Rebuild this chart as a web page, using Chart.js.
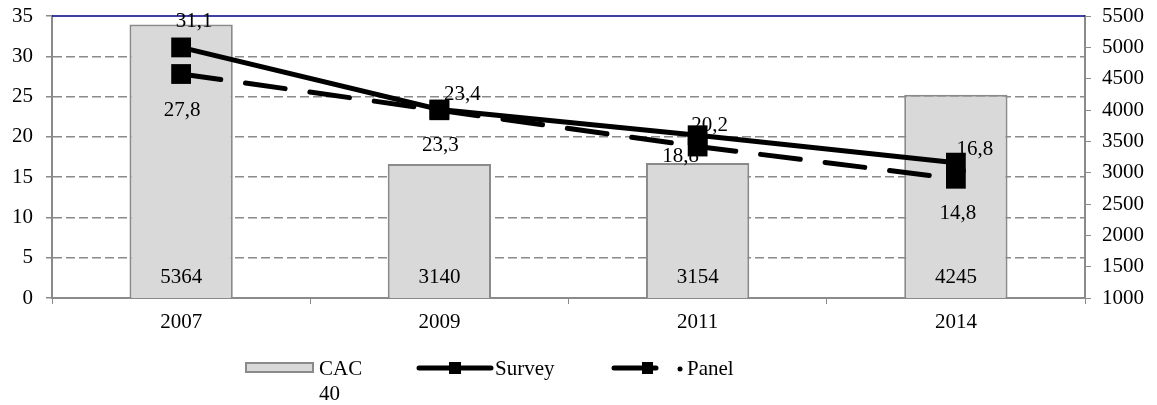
<!DOCTYPE html>
<html>
<head>
<meta charset="utf-8">
<script src="https://cdn.jsdelivr.net/npm/chart.js@4.4.0/dist/chart.umd.min.js"></script>
<style>
  body { margin: 0; background: #fff; }
</style>
</head>
<body>
<canvas id="myChart" width="1157" height="405"></canvas>
<script>
// data
const years = ['2007', '2009', '2011', '2014'];
const cac40 = [5364, 3140, 3154, 4245];
const survey = [31.1, 23.4, 20.2, 16.8];
const panel = [27.8, 23.3, 18.8, 14.8];
const leftTicks = [0, 5, 10, 15, 20, 25, 30, 35];
const rightTicks = [1000, 1500, 2000, 2500, 3000, 3500, 4000, 4500, 5000, 5500];

// label nudges (px) relative to each point, like Excel placed them
const surveyLabelShift = [[13, -26], [23, -15], [12, -10], [19, -13]];
const panelLabelShift = [[1, 36], [1, 35], [-17, 10], [2, 35]];

const FONT = '21px "Liberation Serif", "Times New Roman", serif';
const GRAY = '#8a8a8a';

const fmt = v => v.toFixed(1).replace('.', ',');

function noPad(scale) {
    scale.paddingTop = 0;
    scale.paddingBottom = 0;
    scale.paddingLeft = 0;
    scale.paddingRight = 0;
}

const extras = {
    id: 'extras',
    beforeDatasetsDraw(chart) {
        const ctx = chart.ctx;
        const area = chart.chartArea;
        const top = chart.scales.y.getPixelForValue(leftTicks[leftTicks.length - 1]);
        ctx.save();
        ctx.strokeStyle = '#000080';
        ctx.lineWidth = 1.5;
        ctx.beginPath();
        ctx.moveTo(area.left, top);
        ctx.lineTo(area.right, top);
        ctx.stroke();
        ctx.restore();
    },
    afterDatasetsDraw(chart) {
        const ctx = chart.ctx;
        const y1 = chart.scales.y1;
        ctx.save();
        ctx.font = FONT;
        ctx.fillStyle = '#000';
        ctx.textAlign = 'center';
        ctx.textBaseline = 'middle';
        chart.getDatasetMeta(2).data.forEach((bar, i) => {
            ctx.fillText(String(cac40[i]), bar.x, y1.bottom - 21);
        });
        chart.getDatasetMeta(0).data.forEach((pt, i) => {
            ctx.fillText(fmt(survey[i]), pt.x + surveyLabelShift[i][0], pt.y + surveyLabelShift[i][1]);
        });
        chart.getDatasetMeta(1).data.forEach((pt, i) => {
            ctx.fillText(fmt(panel[i]), pt.x + panelLabelShift[i][0], pt.y + panelLabelShift[i][1]);
        });
        ctx.restore();
    },
    afterDraw(chart) {
        const ctx = chart.ctx;
        const ly = 368;
        ctx.save();
        // CAC 40
        ctx.fillStyle = '#d9d9d9';
        ctx.strokeStyle = GRAY;
        ctx.lineWidth = 2;
        ctx.fillRect(246, 363, 67, 9);
        ctx.strokeRect(246, 363, 67, 9);
        ctx.font = FONT;
        ctx.fillStyle = '#000';
        ctx.textAlign = 'left';
        ctx.textBaseline = 'middle';
        ctx.fillText('CAC', 319, ly + 1);
        ctx.fillText('40', 319, ly + 26);
        // Survey
        ctx.strokeStyle = '#000';
        ctx.lineWidth = 5;
        ctx.lineCap = 'round';
        ctx.beginPath();
        ctx.moveTo(419, ly);
        ctx.lineTo(491, ly);
        ctx.stroke();
        ctx.fillRect(449, ly - 6, 12, 12);
        ctx.fillText('Survey', 495, ly + 1);
        // Panel
        ctx.beginPath();
        ctx.moveTo(614, ly);
        ctx.lineTo(656, ly);
        ctx.stroke();
        ctx.fillRect(642, ly - 6, 11, 12);
        ctx.beginPath();
        ctx.arc(680, ly + 1, 2.5, 0, Math.PI * 2);
        ctx.fill();
        ctx.fillText('Panel', 687, ly + 1);
        ctx.restore();
    }
};

const ctx = document.getElementById('myChart').getContext('2d');
const myChart = new Chart(ctx, {
    type: 'bar',
    data: {
        labels: years,
        datasets: [{
            type: 'line',
            label: 'Survey',
            data: survey,
            yAxisID: 'y',
            borderColor: '#000',
            backgroundColor: '#000',
            borderWidth: 5,
            tension: 0,
            pointStyle: 'rect',
            pointRadius: 14,
            pointBorderWidth: 0,
            order: 1
        }, {
            type: 'line',
            label: 'Panel',
            data: panel,
            yAxisID: 'y',
            borderColor: '#000',
            backgroundColor: '#000',
            borderWidth: 5,
            borderDash: [40, 25],
            borderCapStyle: 'round',
            tension: 0,
            pointStyle: 'rect',
            pointRadius: 14,
            pointBorderWidth: 0,
            order: 2
        }, {
            label: 'CAC 40',
            data: cac40,
            yAxisID: 'y1',
            backgroundColor: '#d9d9d9',
            borderColor: GRAY,
            borderWidth: 2,
            categoryPercentage: 1,
            barPercentage: 0.4,
            order: 3
        }]
    },
    options: {
        responsive: false,
        animation: false,
        devicePixelRatio: 1,
        layout: { padding: { top: 16, left: 0, right: 0, bottom: 0 } },
        plugins: {
            legend: { display: false },
            tooltip: { enabled: false }
        },
        scales: {
            x: {
                grid: { drawOnChartArea: false, drawTicks: true, tickLength: 6, tickColor: GRAY, offset: true },
                border: { color: GRAY, width: 2 },
                ticks: { color: '#000', font: { family: '"Liberation Serif"', size: 21 }, padding: 6 },
                afterFit(scale) { scale.height = 107; noPad(scale); }
            },
            y: {
                position: 'left',
                min: leftTicks[0],
                max: leftTicks[leftTicks.length - 1],
                afterBuildTicks(scale) { scale.ticks = leftTicks.map(v => ({ value: v })); },
                grid: {
                    color: c => (c.tick && (c.tick.value === 0 || c.tick.value === 35)) ? 'rgba(0,0,0,0)' : GRAY,
                    lineWidth: 1.5,
                    tickLength: 6,
                    tickColor: GRAY
                },
                border: { color: GRAY, width: 2, dash: [9, 4] },
                ticks: { color: '#000', font: { family: '"Liberation Serif"', size: 21 }, padding: 13 },
                afterFit(scale) { scale.width = 52; noPad(scale); }
            },
            y1: {
                position: 'right',
                min: rightTicks[0],
                max: rightTicks[rightTicks.length - 1],
                afterBuildTicks(scale) { scale.ticks = rightTicks.map(v => ({ value: v })); },
                grid: { drawOnChartArea: false, tickLength: 6, tickColor: GRAY },
                border: { color: GRAY, width: 2 },
                ticks: {
                    color: '#000',
                    font: { family: '"Liberation Serif"', size: 21 },
                    padding: 11,
                    callback: v => String(v)
                },
                afterFit(scale) { scale.width = 72; noPad(scale); }
            }
        }
    },
    plugins: [extras]
});
</script>
</body>
</html>
